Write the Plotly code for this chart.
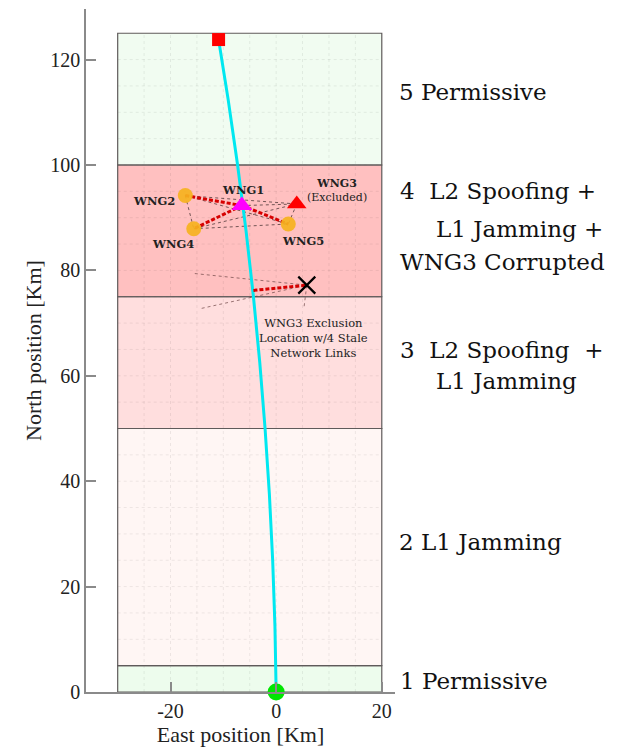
import plotly.graph_objects as go

# Vehicle trajectory (km)
traj_east = [0.0, -0.23, -0.66, -1.28, -2.1, -3.1, -4.3, -5.7, -7.3, -9.1, -10.9]
traj_north = [0.0, 12.5, 25.0, 37.5, 50.0, 62.5, 75.0, 87.5, 100.0, 112.5, 123.8]

# Wireless network ground nodes (km)
node_names = ["WNG1", "WNG2", "WNG3", "WNG4", "WNG5"]
node_east = [-6.5, -17.2, 3.9, -15.6, 2.3]
node_north = [92.3, 94.2, 92.6, 87.9, 88.8]

# Network links (node index pairs)
mesh_links = [(0, 1), (0, 2), (0, 3), (0, 4), (1, 2), (1, 3), (1, 4), (2, 3), (2, 4), (3, 4)]
active_links = [(1, 0), (0, 3), (0, 4)]

# WNG3 exclusion location and its stale links
excl_east, excl_north = 5.8, 77.2
stale_east = [-15.4, -14.1, 5.3]
stale_north = [79.4, 72.8, 73.2]
stale_active_east, stale_active_north = -4.3, 76.2

# Mission zones
zone_lo = [0, 5, 50, 75, 100]
zone_hi = [5, 50, 75, 100, 125]
zone_fill = ["rgb(237,252,237)", "rgb(255,246,244)", "rgb(255,222,222)",
             "rgb(255,192,192)", "rgb(241,252,241)"]
zone_x0, zone_x1 = -30, 20

x_range = [-36.0, 22.5]
y_range = [0.0, 129.6]
x_ticks = [-20, 0, 20]
x_tick_text = ["-20", "0", "20"]
y_ticks = [0, 20, 40, 60, 80, 100, 120]

SERIF = "DejaVu Serif"
TIMES = "Liberation Serif"


def xpaper(x):
    return (x - x_range[0]) / (x_range[1] - x_range[0])


fig = go.Figure()

shapes = []
# zone fills
for lo, hi, col in zip(zone_lo, zone_hi, zone_fill):
    shapes.append(dict(type="rect", xref="x", yref="y", x0=zone_x0, x1=zone_x1, y0=lo, y1=hi,
                       fillcolor=col, line=dict(width=0), layer="below"))
# dotted grid inside the zones
for gx in range(zone_x0 + 5, zone_x1, 5):
    shapes.append(dict(type="line", xref="x", yref="y", x0=gx, x1=gx, y0=zone_lo[0], y1=zone_hi[-1],
                       line=dict(color="rgba(0,0,0,0.07)", width=1, dash="dot"), layer="below"))
for gy in range(5, zone_hi[-1], 5):
    shapes.append(dict(type="line", xref="x", yref="y", x0=zone_x0, x1=zone_x1, y0=gy, y1=gy,
                       line=dict(color="rgba(0,0,0,0.07)", width=1, dash="dot"), layer="below"))
# zone outlines
for lo, hi in zip(zone_lo, zone_hi):
    shapes.append(dict(type="rect", xref="x", yref="y", x0=zone_x0, x1=zone_x1, y0=lo, y1=hi,
                       fillcolor="rgba(0,0,0,0)", line=dict(color="rgb(95,90,90)", width=1.2),
                       layer="below"))

# full mesh of network links (thin dotted)
for a, b in mesh_links:
    fig.add_trace(go.Scatter(x=[node_east[a], node_east[b]], y=[node_north[a], node_north[b]],
                             mode="lines", line=dict(color="rgba(70,50,50,0.75)", width=1, dash="dot"),
                             hoverinfo="skip", showlegend=False))
# stale links from the exclusion location
for sx, sy in zip(stale_east, stale_north):
    fig.add_trace(go.Scatter(x=[sx, excl_east], y=[sy, excl_north], mode="lines",
                             line=dict(color="rgba(110,70,70,0.7)", width=1, dash="dot"),
                             hoverinfo="skip", showlegend=False))

# trajectory
fig.add_trace(go.Scatter(x=traj_east, y=traj_north, mode="lines", line=dict(color="rgb(0,232,240)", width=3),
                         showlegend=False, cliponaxis=False))

# active links (red dashed)
for a, b in active_links:
    fig.add_trace(go.Scatter(x=[node_east[a], node_east[b]], y=[node_north[a], node_north[b]],
                             mode="lines", line=dict(color="rgb(215,0,0)", width=3, dash="4px,2px"),
                             hoverinfo="skip", showlegend=False))
fig.add_trace(go.Scatter(x=[stale_active_east, excl_east], y=[stale_active_north, excl_north],
                         mode="lines", line=dict(color="rgb(215,0,0)", width=3, dash="4px,2px"),
                         hoverinfo="skip", showlegend=False))

# ground nodes
orange_idx = [1, 3, 4]
fig.add_trace(go.Scatter(x=[node_east[i] for i in orange_idx], y=[node_north[i] for i in orange_idx],
                         mode="markers", marker=dict(symbol="circle", size=15, color="rgba(246,178,30,0.92)"),
                         showlegend=False))
fig.add_trace(go.Scatter(x=[node_east[0]], y=[node_north[0]], mode="markers",
                         marker=dict(symbol="triangle-up", size=18, color="rgb(255,0,255)"), showlegend=False))
fig.add_trace(go.Scatter(x=[node_east[2]], y=[node_north[2]], mode="markers",
                         marker=dict(symbol="triangle-up", size=17, color="rgb(255,0,0)"), showlegend=False))
# exclusion location
fig.add_trace(go.Scatter(x=[excl_east], y=[excl_north], mode="markers",
                         marker=dict(symbol="x-thin", size=17, line=dict(color="black", width=2.2)),
                         showlegend=False))

# start / end of the trajectory
fig.add_trace(go.Scatter(x=[traj_east[-1]], y=[traj_north[-1]], mode="markers",
                         marker=dict(symbol="square", size=13, color="rgb(255,0,0)"), showlegend=False,
                         cliponaxis=False))
fig.add_trace(go.Scatter(x=[traj_east[0]], y=[traj_north[0]], mode="markers",
                         marker=dict(symbol="circle", size=17, color="rgb(0,230,0)"), showlegend=False,
                         cliponaxis=False))

annotations = []
# node labels
node_label_pos = {
    "WNG1": (-6.3, 95.3),
    "WNG2": (-23.1, 93.2),
    "WNG4": (-19.5, 85.1),
    "WNG5": (5.1, 85.5),
}
for name, (lx, ly) in node_label_pos.items():
    annotations.append(dict(x=lx, y=ly, xref="x", yref="y", text="<b>" + name + "</b>", showarrow=False,
                            font=dict(family=SERIF, size=11.5, color="#222")))
annotations.append(dict(x=11.6, y=95.2, xref="x", yref="y", text="<b>WNG3</b><br>(Excluded)",
                        showarrow=False, font=dict(family=SERIF, size=11, color="#222")))
annotations.append(dict(x=7.0, y=67.2, xref="x", yref="y",
                        text="WNG3 Exclusion<br>Location w/4 Stale<br>Network Links",
                        showarrow=False, font=dict(family=SERIF, size=11.5, color="#222")))

# zone descriptions to the right of the plot
zone_text = [
    ("5 Permissive", 22.9, 113.8),
    ("4  L2 Spoofing +", 23.1, 95.1),
    ("L1 Jamming +", 29.8, 87.9),
    ("WNG3 Corrupted", 23.1, 81.5),
    ("3  L2 Spoofing  +", 23.1, 64.9),
    ("L1 Jamming", 29.8, 59.1),
    ("2 L1 Jamming", 22.9, 28.5),
    ("1 Permissive", 23.1, 2.1),
]
for txt, tx, ty in zone_text:
    annotations.append(dict(x=xpaper(tx), y=ty, xref="paper", yref="y", text=txt, showarrow=False,
                            xanchor="left", yanchor="middle",
                            font=dict(family=SERIF, size=23, color="#111")))

axis_common = dict(showline=True, linecolor="#8a8a8a", linewidth=1.5, ticks="inside", ticklen=10,
                   tickcolor="#8a8a8a", tickwidth=1.5, showgrid=False, zeroline=False,
                   tickfont=dict(family=TIMES, size=20, color="#222"),
                   title_font=dict(family=TIMES, size=22, color="#222"))

fig.update_layout(
    width=625, height=752,
    margin=dict(l=86, r=230, t=9, b=56),
    paper_bgcolor="white", plot_bgcolor="white",
    shapes=shapes, annotations=annotations,
    xaxis=dict(range=x_range, tickvals=x_ticks, ticktext=x_tick_text,
               title=dict(text="East position [Km]", standoff=6), **axis_common),
    yaxis=dict(range=y_range, tickvals=y_ticks, title=dict(text="North position [Km]", standoff=3),
               **axis_common),
)

fig.write_html("out.html")
